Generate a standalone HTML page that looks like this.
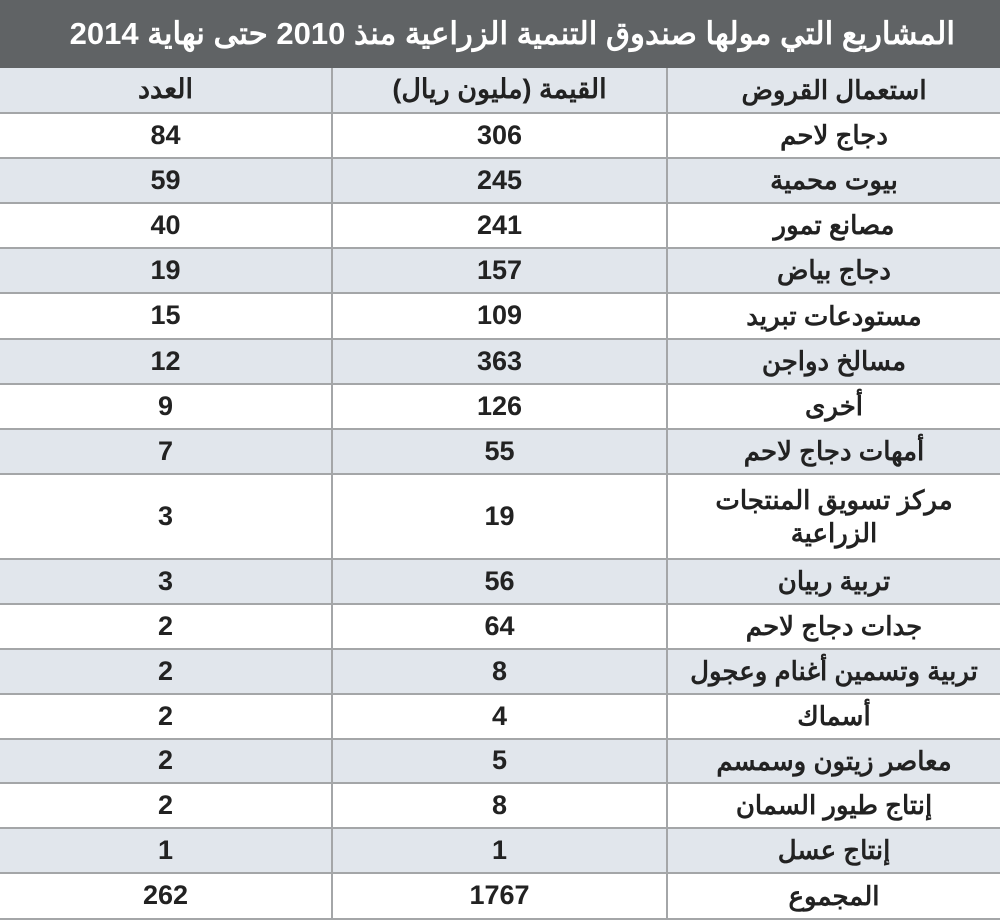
<!DOCTYPE html>
<html><head><meta charset="utf-8"><style>
body{margin:0;width:1000px;height:921px;background:#fff;font-family:"Liberation Sans","Noto Sans CJK SC",sans-serif;overflow:hidden;position:relative}
.t{position:absolute;left:0;top:0;width:1000px;height:68px;background:#606365;color:#fff;font-weight:bold;font-size:31px;direction:rtl;text-align:right;box-sizing:border-box;padding-right:45px;line-height:68px;white-space:nowrap}
.r{position:absolute;left:0;width:1000px;border-bottom:2px solid #a4a6a8;box-sizing:border-box;display:flex;direction:ltr}
.r.l{background:#e1e6ec}
.r div{display:flex;align-items:center;justify-content:center;font-weight:bold;font-size:26px;color:#222;height:100%;text-align:center;line-height:1.25}
.c1,.c2{font-size:27px!important}
.c1{width:333px;border-right:2px solid #a4a6a8;box-sizing:border-box}
.c2{width:335px;border-right:2px solid #a4a6a8;box-sizing:border-box}
.c3{width:332px;direction:rtl;white-space:nowrap}
</style></head><body>
<div class="t">المشاريع التي مولها صندوق التنمية الزراعية منذ 2010 حتى نهاية 2014</div>
<div class="r l" style="top:68px;height:46px"><div class="c1">العدد</div><div class="c2">القيمة (مليون ريال)</div><div class="c3">استعمال القروض</div></div>
<div class="r" style="top:114px;height:45px"><div class="c1">84</div><div class="c2">306</div><div class="c3">دجاج لاحم</div></div>
<div class="r l" style="top:159px;height:45px"><div class="c1">59</div><div class="c2">245</div><div class="c3">بيوت محمية</div></div>
<div class="r" style="top:204px;height:45px"><div class="c1">40</div><div class="c2">241</div><div class="c3">مصانع تمور</div></div>
<div class="r l" style="top:249px;height:45px"><div class="c1">19</div><div class="c2">157</div><div class="c3">دجاج بياض</div></div>
<div class="r" style="top:294px;height:46px"><div class="c1">15</div><div class="c2">109</div><div class="c3">مستودعات تبريد</div></div>
<div class="r l" style="top:340px;height:45px"><div class="c1">12</div><div class="c2">363</div><div class="c3">مسالخ دواجن</div></div>
<div class="r" style="top:385px;height:45px"><div class="c1">9</div><div class="c2">126</div><div class="c3">أخرى</div></div>
<div class="r l" style="top:430px;height:45px"><div class="c1">7</div><div class="c2">55</div><div class="c3">أمهات دجاج لاحم</div></div>
<div class="r" style="top:475px;height:85px"><div class="c1">3</div><div class="c2">19</div><div class="c3">مركز تسويق المنتجات<br>الزراعية</div></div>
<div class="r l" style="top:560px;height:45px"><div class="c1">3</div><div class="c2">56</div><div class="c3">تربية ربيان</div></div>
<div class="r" style="top:605px;height:45px"><div class="c1">2</div><div class="c2">64</div><div class="c3">جدات دجاج لاحم</div></div>
<div class="r l" style="top:650px;height:45px"><div class="c1">2</div><div class="c2">8</div><div class="c3">تربية وتسمين أغنام وعجول</div></div>
<div class="r" style="top:695px;height:45px"><div class="c1">2</div><div class="c2">4</div><div class="c3">أسماك</div></div>
<div class="r l" style="top:740px;height:44px"><div class="c1">2</div><div class="c2">5</div><div class="c3">معاصر زيتون وسمسم</div></div>
<div class="r" style="top:784px;height:45px"><div class="c1">2</div><div class="c2">8</div><div class="c3">إنتاج طيور السمان</div></div>
<div class="r l" style="top:829px;height:45px"><div class="c1">1</div><div class="c2">1</div><div class="c3">إنتاج عسل</div></div>
<div class="r" style="top:874px;height:46px"><div class="c1">262</div><div class="c2">1767</div><div class="c3">المجموع</div></div>
</body></html>
